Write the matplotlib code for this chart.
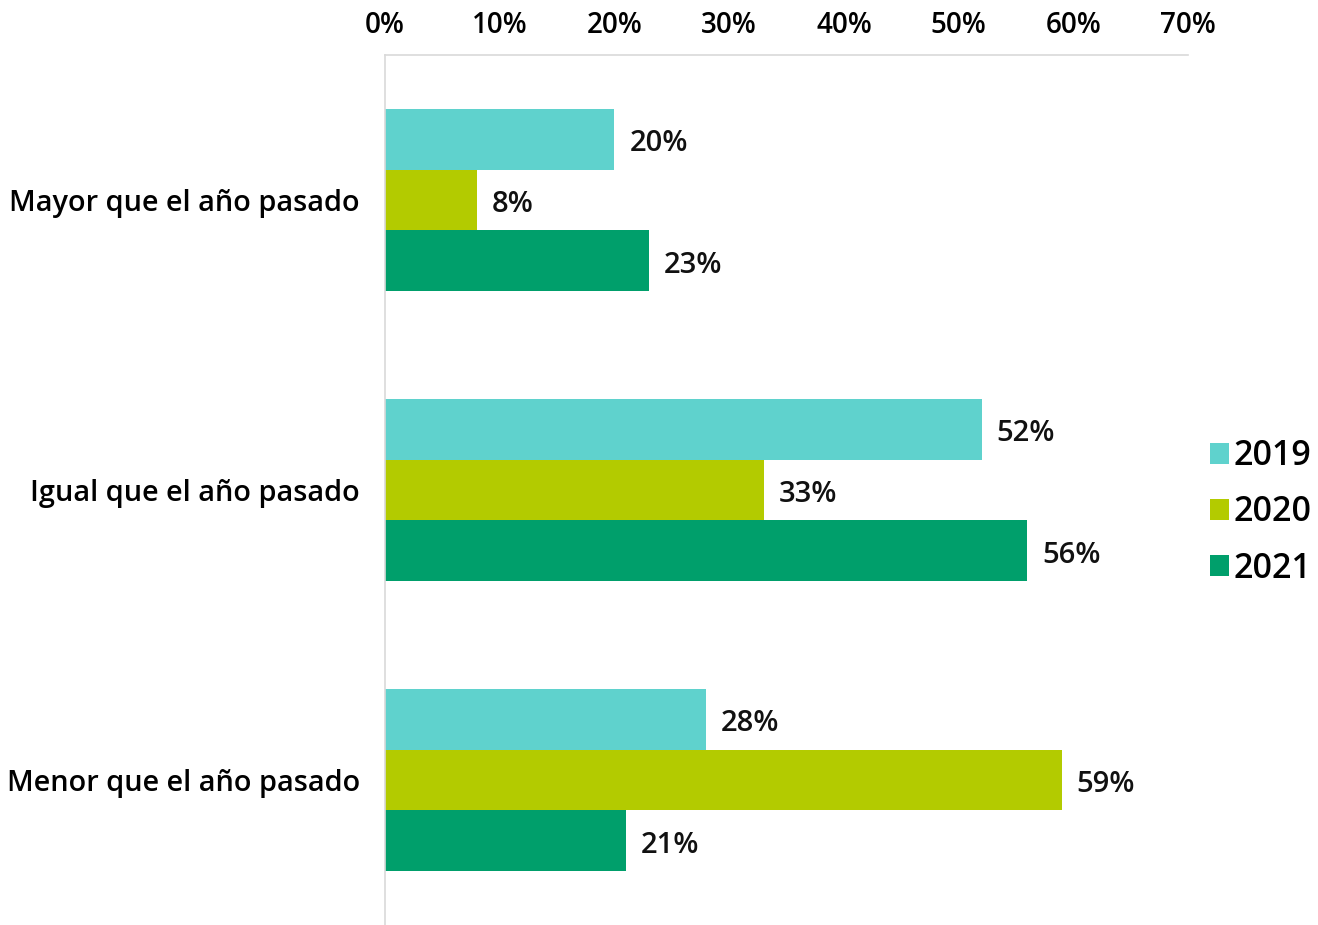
import matplotlib
matplotlib.use("Agg")
import matplotlib.pyplot as plt
import numpy as np
from matplotlib.patches import Patch
from matplotlib.ticker import FuncFormatter

plt.rcParams["font.family"] = ["Open Sans", "DejaVu Sans"]

categories = ["Mayor que el año pasado", "Igual que el año pasado", "Menor que el año pasado"]
years = ["2019", "2020", "2021"]
values_2019 = [20, 52, 28]
values_2020 = [8, 33, 59]
values_2021 = [23, 56, 21]
colors = ["#5fd2cd", "#b3cb00", "#009f6b"]

series = [values_2019, values_2020, values_2021]

fig = plt.figure(figsize=(13.18, 9.25), dpi=100)
ax = fig.add_axes([0.2921, 0.0, 0.6093, 0.9405])

y = np.arange(len(categories))
h = 0.21
for i, (vals, col) in enumerate(zip(series, colors)):
    pos = y + (i - 1) * h
    ax.barh(pos, vals, height=h, color=col)
    for p, v in zip(pos, vals):
        ax.text(v + 1.3, p + 0.015, f"{v}%", va="center", ha="left", fontsize=21,
                fontweight="semibold", color="#111111")

ax.set_xlim(0, 70)
ax.set_ylim(2.5, -0.5)
ax.set_yticks(y)
ax.set_yticklabels(categories, fontsize=20.8, fontweight="semibold")
ax.set_xticks(range(0, 71, 10))
ax.xaxis.set_major_formatter(FuncFormatter(lambda v, _: f"{v:.0f}%"))
ax.xaxis.tick_top()
ax.tick_params(axis="x", length=0, labelsize=20, pad=11)
ax.tick_params(axis="y", length=0, pad=18)
for lab in ax.get_xticklabels():
    lab.set_fontweight("semibold")

for s in ["right", "bottom"]:
    ax.spines[s].set_visible(False)
ax.spines["top"].set_color("#d9d9d9")
ax.spines["left"].set_color("#d9d9d9")
ax.spines["top"].set_linewidth(1.2)
ax.spines["left"].set_linewidth(1.2)

handles = [Patch(facecolor=c, label=yr) for c, yr in zip(colors, years)]
fig.legend(handles=handles, loc="center left", bbox_to_anchor=(0.905, 0.446),
           frameon=False, handlelength=0.55, handleheight=0.55,
           handletextpad=0.15, labelspacing=0.65, borderpad=0.0,
           prop={"size": 24.5, "weight": "semibold"})

fig.savefig("out.png", dpi=100)
